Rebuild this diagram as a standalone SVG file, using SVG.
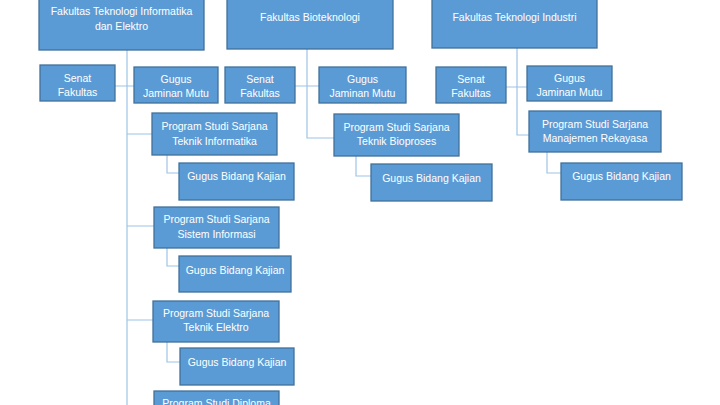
<svg xmlns="http://www.w3.org/2000/svg" width="720" height="405" viewBox="0 0 720 405">
<style>
.b{fill:#5B9BD5;stroke:#41719C;stroke-width:1.3}
.t{fill:#fff;font-family:"Liberation Sans",Arial,sans-serif;font-size:10.5px;text-anchor:middle;dominant-baseline:central}
.c{fill:none;stroke:#9DC3E6;stroke-width:1.2}
</style>
<rect width="720" height="405" fill="#fff"/>
<g id="connectors">
<path class="c" d="M127,50V405M115,86H134M127,134H152M127,226H154M127,320H153"/>
<path class="c" d="M167,155V173H179M167,248V266H179M167,342V362H180"/>
<path class="c" d="M307,49V138H334M295,86H319M356,156V176H371"/>
<path class="c" d="M517,48V135H529M506,87H527M547,152V173H561"/>
</g>
<g id="f1"><rect class="b" x="39" y="-3" width="165" height="53"/><text class="t" x="121.5" y="11">Fakultas Teknologi Informatika</text><text class="t" x="121.5" y="26">dan Elektro</text></g>
<g id="s1"><rect class="b" x="40" y="65" width="75" height="36"/><text class="t" x="77.5" y="78">Senat</text><text class="t" x="77.5" y="92">Fakultas</text></g>
<g id="g1"><rect class="b" x="134" y="67" width="84" height="36"/><text class="t" x="176" y="79">Gugus</text><text class="t" x="176" y="93">Jaminan Mutu</text></g>
<g id="p1"><rect class="b" x="152" y="113" width="125" height="42"/><text class="t" x="214.5" y="126">Program Studi Sarjana</text><text class="t" x="214.5" y="141">Teknik Informatika</text></g>
<g id="k1"><rect class="b" x="179" y="163" width="115" height="37"/><text class="t" x="236.5" y="176">Gugus Bidang Kajian</text></g>
<g id="p2"><rect class="b" x="154" y="207" width="125" height="41"/><text class="t" x="216.5" y="219">Program Studi Sarjana</text><text class="t" x="216.5" y="234">Sistem Informasi</text></g>
<g id="k2"><rect class="b" x="179" y="256" width="112" height="36"/><text class="t" x="235" y="270">Gugus Bidang Kajian</text></g>
<g id="p3"><rect class="b" x="153" y="301" width="126" height="41"/><text class="t" x="216" y="313">Program Studi Sarjana</text><text class="t" x="216" y="327">Teknik Elektro</text></g>
<g id="k3"><rect class="b" x="180" y="348" width="114" height="37"/><text class="t" x="237" y="362">Gugus Bidang Kajian</text></g>
<g id="p4"><rect class="b" x="154" y="391" width="125" height="40"/><text class="t" x="216.5" y="403">Program Studi Diploma</text></g>
<g id="f2"><rect class="b" x="227" y="-3" width="166" height="52"/><text class="t" x="310" y="17">Fakultas Bioteknologi</text></g>
<g id="s2"><rect class="b" x="225" y="67" width="70" height="36"/><text class="t" x="260" y="79">Senat</text><text class="t" x="260" y="93">Fakultas</text></g>
<g id="g2"><rect class="b" x="319" y="67" width="87" height="36"/><text class="t" x="362.5" y="79">Gugus</text><text class="t" x="362.5" y="93">Jaminan Mutu</text></g>
<g id="p5"><rect class="b" x="334" y="114" width="125" height="42"/><text class="t" x="396.5" y="127">Program Studi Sarjana</text><text class="t" x="396.5" y="141">Teknik Bioproses</text></g>
<g id="k5"><rect class="b" x="371" y="164" width="121" height="37"/><text class="t" x="431.5" y="178">Gugus Bidang Kajian</text></g>
<g id="f3"><rect class="b" x="432" y="-3" width="165" height="51"/><text class="t" x="514.5" y="17">Fakultas Teknologi Industri</text></g>
<g id="s3"><rect class="b" x="436" y="67" width="70" height="36"/><text class="t" x="471" y="79">Senat</text><text class="t" x="471" y="93">Fakultas</text></g>
<g id="g3"><rect class="b" x="527" y="66" width="85" height="35"/><text class="t" x="569.5" y="78">Gugus</text><text class="t" x="569.5" y="92">Jaminan Mutu</text></g>
<g id="p6"><rect class="b" x="529" y="111" width="132" height="41"/><text class="t" x="595" y="124">Program Studi Sarjana</text><text class="t" x="595" y="138">Manajemen Rekayasa</text></g>
<g id="k6"><rect class="b" x="561" y="163" width="121" height="37"/><text class="t" x="621.5" y="176">Gugus Bidang Kajian</text></g>
</svg>
